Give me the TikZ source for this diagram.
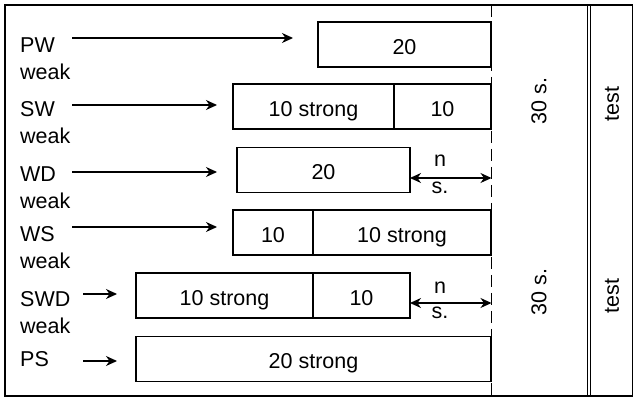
\documentclass[tikz,border=0pt]{standalone}
\usepackage{fontspec}
\setmainfont{Liberation Sans}
\usepackage{tikz}
\usetikzlibrary{arrows.meta}

\tikzset{
    seg/.style={draw,line width=1.4pt,minimum height=45pt,inner sep=0pt,outer sep=0pt,
        text height=20pt,text depth=0pt},
    lbl/.style={anchor=base west,inner sep=0pt,align=left},
    note/.style={inner sep=0pt},
    feed/.style={-{Stealth[length=11pt,width=10pt,inset=3.5pt]},line width=1.2pt},
    gap/.style={{Stealth[length=11pt,width=10pt,inset=3.5pt]}-{Stealth[length=11pt,width=10pt,inset=3.5pt]},line width=1.2pt}
}

\begin{document}
\begin{tikzpicture}[x=1pt,y=-1pt,font=\fontsize{21.5}{27}\selectfont]
            \useasboundingbox (0,0) rectangle (633,398);
            \draw[line width=1.4pt] (5,5) rectangle (632.5,396);

            % groups (base is the last line)
            \node[lbl] (pw) at (20,80) {PW\\weak};
            \node[lbl] (sw) at (20,144) {SW\\weak};
            \node[lbl] (wd) at (20,209) {WD\\weak};
            \node[lbl] (ws) at (20,269) {WS\\weak};
            \node[lbl] (swd) at (20,334) {SWD\\weak};
            \node[lbl] (ps) at (20,367) {PS};

            % blocks
            \node[seg,minimum width=173pt] (pw1) at (404.5,44.5) {20};
            \node[seg,minimum width=161pt] (sw1) at (313.5,106.5) {10 strong};
            \node[seg,minimum width=97pt] (sw2) at (442.5,106.5) {10};
            \node[seg,minimum width=173pt] (wd1) at (323.5,170) {20};
            \node[seg,minimum width=80pt] (ws1) at (273,232.5) {10};
            \node[seg,minimum width=178pt] (ws2) at (402,232.5) {10 strong};
            \node[seg,minimum width=177pt] (swd1) at (224.5,295.5) {10 strong};
            \node[seg,minimum width=97pt] (swd2) at (361.5,295.5) {10};
            \node[seg,minimum width=355pt] (ps1) at (313.5,359) {20 strong};

            % arrows into blocks
            \coordinate (pwa) at (72,38);
            \coordinate (swa) at (72,105);
            \coordinate (wda) at (72,172);
            \coordinate (wsa) at (72,227);
            \coordinate (swda) at (83,294);
            \coordinate (psa) at (83,361);
            \draw[feed,shorten >=25pt] (pwa) -- (pwa -| pw1.west);
            \draw[feed,shorten >=16pt] (swa) -- (swa -| sw1.west);
            \draw[feed,shorten >=20pt] (wda) -- (wda -| wd1.west);
            \draw[feed,shorten >=16pt] (wsa) -- (wsa -| ws1.west);
            \draw[feed,shorten >=19pt] (swda) -- (swda -| swd1.west);
            \draw[feed,shorten >=19pt] (psa) -- (psa -| ps1.west);

            % rest period
            \coordinate (dtop) at (491.5,5);
            \coordinate (dbot) at (491.5,396);
            \draw[line width=1.4pt,dash pattern=on 12pt off 6pt] (dtop) -- (dbot);
            \coordinate (wdb) at (wd1.east |- 0,178);
            \coordinate (swdb) at (swd2.east |- 0,303);
            \draw[gap] (wdb) -- (wdb -| dtop);
            \draw[gap] (swdb) -- (swdb -| dtop);
            \node[note] (n1) at (440,161) {n};
            \node[note] (s1) at (440,188) {s.};
            \node[note] (n2) at (440,288) {n};
            \node[note] (s2) at (440,313) {s.};

            \node[note,rotate=90] (r1) at (539,101) {30 s.};
            \node[note,rotate=90] (r2) at (539,292) {30 s.};

            \draw[line width=0.8pt] (587,5) -- (587,396);
            \draw[line width=0.8pt] (590.5,5) -- (590.5,396);
            \node[note,rotate=90] (t1) at (612,104) {test};
            \node[note,rotate=90] (t2) at (612,296) {test};
        \end{tikzpicture}
\end{document}
